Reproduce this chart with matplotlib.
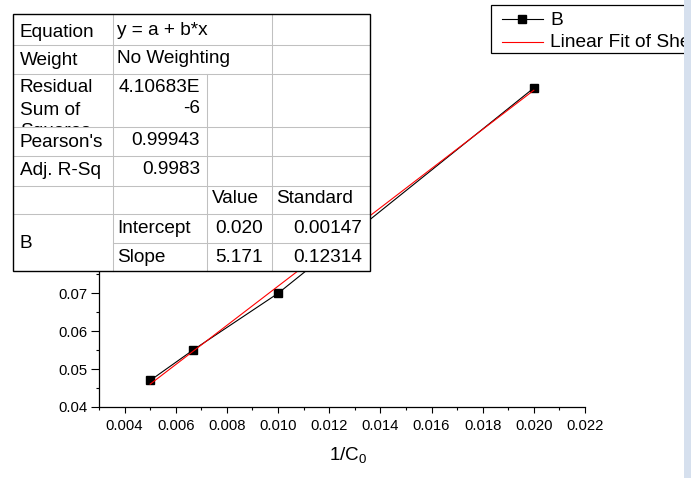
#!/usr/bin/env python3
"""
Linear fit of B vs 1/C0, with the Origin-style fit report table
and legend drawn on top of the graph.
"""

import numpy as np

import matplotlib
matplotlib.use('Agg')
import matplotlib.pyplot as plt
from matplotlib.patches import Rectangle
from matplotlib.ticker import MultipleLocator, FormatStrFormatter

# data
inv_c0 = [0.005, 0.00667, 0.010, 0.020]
b_vals = [0.047, 0.055, 0.070, 0.1242]

# fit report table text
eq_text = "y = a + b*x"
weight_text = "No Weighting"
rss_text = ["4.10683E", "-6"]
pearson_text = "0.99943"
adj_r2_text = "0.9983"
intercept_text = ["0.020", "0.00147"]
slope_text = ["5.171", "0.12314"]

legend_labels = ["B", "Linear Fit of Sheet1 B"]

W, H = 691, 478
FONT = 'Liberation Sans'
TABLE_FS = 13.7

plt.rcParams['font.family'] = [FONT, 'DejaVu Sans']
plt.rcParams['mathtext.fontset'] = 'custom'
plt.rcParams['mathtext.rm'] = FONT
plt.rcParams['mathtext.default'] = 'regular'


def px_box(x0, y0, x1, y1):
    # pixel box (top-left origin) -> figure fraction rect
    return [x0 / W, 1 - y1 / H, (x1 - x0) / W, (y1 - y0) / H]


def draw_table(ax):
    cx = [13.3, 113.3, 207.3, 271.7, 370]
    ry = [14.3, 45.3, 74.3, 127.3, 156.3, 185.7, 214.3, 243.3, 270.7]
    grey = '#c0c0c0'
    lw = 0.75

    ax.add_patch(Rectangle((cx[0], ry[0]), cx[-1] - cx[0], ry[-1] - ry[0],
                           facecolor='white', edgecolor='none', zorder=1))

    # inner grid
    for y in ry[1:7]:
        ax.plot([cx[0], cx[-1]], [y, y], color=grey, lw=lw, zorder=2)
    ax.plot([cx[1], cx[-1]], [ry[7], ry[7]], color=grey, lw=lw, zorder=2)
    ax.plot([cx[1], cx[1]], [ry[0], ry[-1]], color=grey, lw=lw, zorder=2)
    ax.plot([cx[2], cx[2]], [ry[2], ry[-1]], color=grey, lw=lw, zorder=2)
    ax.plot([cx[3], cx[3]], [ry[0], ry[-1]], color=grey, lw=lw, zorder=2)

    # outer border
    ax.add_patch(Rectangle((cx[0], ry[0]), cx[-1] - cx[0], ry[-1] - ry[0],
                           facecolor='none', edgecolor='black', lw=1.0, zorder=4))

    kw = dict(fontsize=TABLE_FS, va='baseline', zorder=3, color='black')
    lx, vx, nx = 20, 117, 200
    ax.text(lx, 37.3, "Equation", **kw)
    ax.text(vx, 35, eq_text, **kw)
    ax.text(lx, 65, "Weight", **kw)
    ax.text(vx, 63.3, weight_text, **kw)

    ax.text(lx, 92, "Residual", **kw)
    ax.text(lx, 115, "Sum of", **kw)
    # third line of the label is cut off by the cell, as in the source
    t = ax.text(lx, 136, "Squares", clip_on=True, **kw)
    clip = Rectangle((cx[0], ry[2]), cx[1] - cx[0], ry[3] - ry[2],
                     transform=ax.transData)
    t.set_clip_path(clip)
    ax.text(nx, 92, rss_text[0], ha='right', **kw)
    ax.text(nx, 113, rss_text[1], ha='right', **kw)

    ax.text(lx, 146.7, "Pearson's", **kw)
    ax.text(nx, 145, pearson_text, ha='right', **kw)
    ax.text(lx, 175, "Adj. R-Sq", **kw)
    ax.text(nx, 174, adj_r2_text, ha='right', **kw)

    ax.text(212, 203.3, "Value", **kw)
    ax.text(276, 203.3, "Standard", **kw)
    ax.text(lx, 248, "B", **kw)
    ax.text(vx, 233, "Intercept", **kw)
    ax.text(263, 233, intercept_text[0], ha='right', **kw)
    ax.text(362, 233, intercept_text[1], ha='right', **kw)
    ax.text(vx, 262, "Slope", **kw)
    ax.text(263, 262, slope_text[0], ha='right', **kw)
    ax.text(362, 262, slope_text[1], ha='right', **kw)


def draw_legend(ax):
    ax.add_patch(Rectangle((490.7, 5), 260, 47.7, facecolor='white',
                           edgecolor='black', lw=0.9, zorder=1))
    ax.plot([501.7, 543.3], [19, 19], color='black', lw=0.8, zorder=2)
    ax.plot([522.5], [19], 's', color='black', ms=5.2, zorder=3)
    ax.plot([501.7, 543.3], [42.3, 42.3], color='red', lw=0.8, zorder=2)
    kw = dict(fontsize=13.8, va='baseline', color='black', zorder=3)
    ax.text(550, 25, legend_labels[0], **kw)
    ax.text(550, 46.7, legend_labels[1], **kw)
    # window border strip on the right edge
    ax.add_patch(Rectangle((684, 0), 7, H, facecolor='#d6e0ee',
                           edgecolor='none', zorder=10))


def plot():
    fig = plt.figure(figsize=(W / 100, H / 100), dpi=100)

    ax = fig.add_axes(px_box(99, 66, 585, 407))
    x = np.array(inv_c0)
    y = np.array(b_vals)
    slope, intercept = np.polyfit(x, y, 1)
    xf = np.array([x.min(), x.max()])

    ax.plot(x, y, '-', color='black', lw=0.8, marker='s', ms=5.8,
            markerfacecolor='black', markeredgecolor='black', zorder=3)
    ax.plot(xf, intercept + slope * xf, '-', color='red', lw=0.8, zorder=4)

    ax.set_xlim(0.003, 0.022)
    ax.set_ylim(0.04, 0.13)
    ax.xaxis.set_major_locator(MultipleLocator(0.002))
    ax.xaxis.set_minor_locator(MultipleLocator(0.001))
    ax.yaxis.set_major_locator(MultipleLocator(0.01))
    ax.yaxis.set_minor_locator(MultipleLocator(0.005))
    ax.xaxis.set_major_formatter(FormatStrFormatter('%.3f'))
    ax.yaxis.set_major_formatter(FormatStrFormatter('%.2f'))

    for s in ('top', 'right'):
        ax.spines[s].set_visible(False)
    for s in ('left', 'bottom'):
        ax.spines[s].set_linewidth(0.9)
    ax.tick_params(axis='both', which='both', direction='out', width=0.8,
                   labelsize=10.7, colors='black')
    ax.tick_params(axis='x', which='major', length=4.3, pad=4)
    ax.tick_params(axis='y', which='major', length=5.5, pad=3)
    ax.tick_params(axis='both', which='minor', length=2.2)
    ax.set_xlabel('1/C$_0$', fontsize=13.6)
    ax.xaxis.set_label_coords(0.513, -0.11)
    ax.xaxis.label.set_va('top')

    # overlay in pixel coordinates for the report table and legend
    ov = fig.add_axes([0, 0, 1, 1])
    ov.set_xlim(0, W)
    ov.set_ylim(H, 0)
    ov.axis('off')
    ov.set_zorder(5)
    draw_table(ov)
    draw_legend(ov)

    fig.savefig('out.png', dpi=100)
    plt.close(fig)


if __name__ == '__main__':
    plot()
